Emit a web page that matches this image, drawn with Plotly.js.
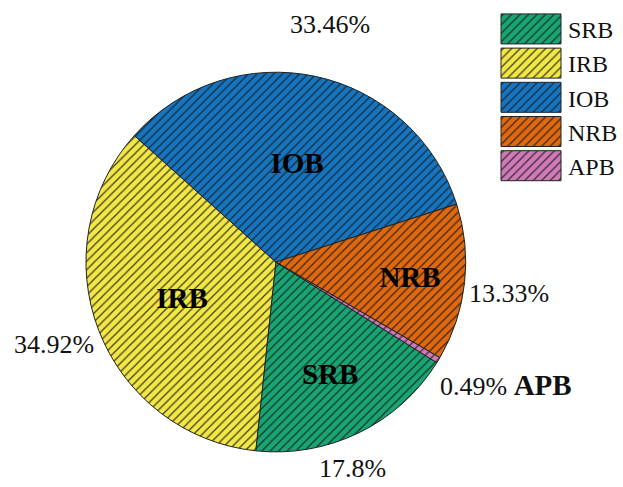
<!DOCTYPE html>
<html>
<head>
<meta charset="utf-8">
<script src="https://cdn.plot.ly/plotly-3.0.1.min.js"></script>
<style>html,body{margin:0;padding:0;background:#fff;}#chart{width:623px;height:487px;}</style>
</head>
<body>
<div id="chart"></div>
<script>
const categories = ['SRB', 'IRB', 'IOB', 'NRB', 'APB'];
const shares = [17.8, 34.92, 33.46, 13.33, 0.49];
const shareLabels = ['17.8%', '34.92%', '33.46%', '13.33%', '0.49%'];
const insideLabels = ['SRB', 'IRB', 'IOB', 'NRB', ''];
const colors = ['#17a673', '#f2e745', '#1575c0', '#e0680e', '#d07ab8'];

const FONT = 'Liberation Serif';

const pie = {
  type: 'pie',
  labels: categories,
  values: shares,
  sort: false,
  direction: 'clockwise',
  rotation: 122,
  text: insideLabels,
  texttemplate: '<b>%{text}</b>',
  textposition: 'inside',
  insidetextorientation: 'horizontal',
  insidetextfont: {family: FONT, size: 29, color: '#000'},
  hoverinfo: 'label+percent',
  marker: {
    colors: colors,
    line: {color: '#222', width: 1},
    pattern: {shape: '/', fgcolor: '#1a1a1a', bgcolor: colors, fgopacity: 0.85, size: 6, solidity: 0.2}
  },
  domain: {x: [0.1396, 0.756], y: [0.0678, 0.856]},
  showlegend: true
};

// outside percentage labels, text taken from the data arrays
const labelPos = [
  {x: 0.573, y: 0.038, xa: 'center'},
  {x: 0.088, y: 0.292, xa: 'center'},
  {x: 0.536, y: 0.949, xa: 'center'},
  {x: 0.827, y: 0.398, xa: 'center'},
  {x: 0.711, y: 0.209, xa: 'left'}
];
const annotations = categories.map((c, i) => ({
  xref: 'paper', yref: 'paper',
  x: labelPos[i].x, y: labelPos[i].y,
  xanchor: labelPos[i].xa, yanchor: 'middle',
  showarrow: false,
  text: c === 'APB'
    ? shareLabels[i] + ' <span style="font-size:29px"><b>' + c + '</b></span>'
    : shareLabels[i],
  font: {family: FONT, size: 26, color: '#111'}
}));

const layout = {
  width: 623, height: 487,
  margin: {l: 0, r: 0, t: 0, b: 0},
  paper_bgcolor: '#fff',
  plot_bgcolor: '#fff',
  font: {family: FONT, color: '#111'},
  showlegend: true,
  legend: {
    x: 0.802, y: 0.986, xanchor: 'left', yanchor: 'top',
    font: {family: FONT, size: 24, color: '#111'},
    itemwidth: 64,
    tracegroupgap: 0,
    bgcolor: 'rgba(0,0,0,0)'
  },
  annotations: annotations
};

Plotly.newPlot('chart', [pie], layout, {displayModeBar: false, staticPlot: true}).then(gd => {
  // enlarge legend swatches to the wide boxes of the original figure
  gd.querySelectorAll('path.legendpie').forEach(p => {
    p.setAttribute('d', 'M30,15H-30V-15H30Z');
  });
});
</script>
</body>
</html>
